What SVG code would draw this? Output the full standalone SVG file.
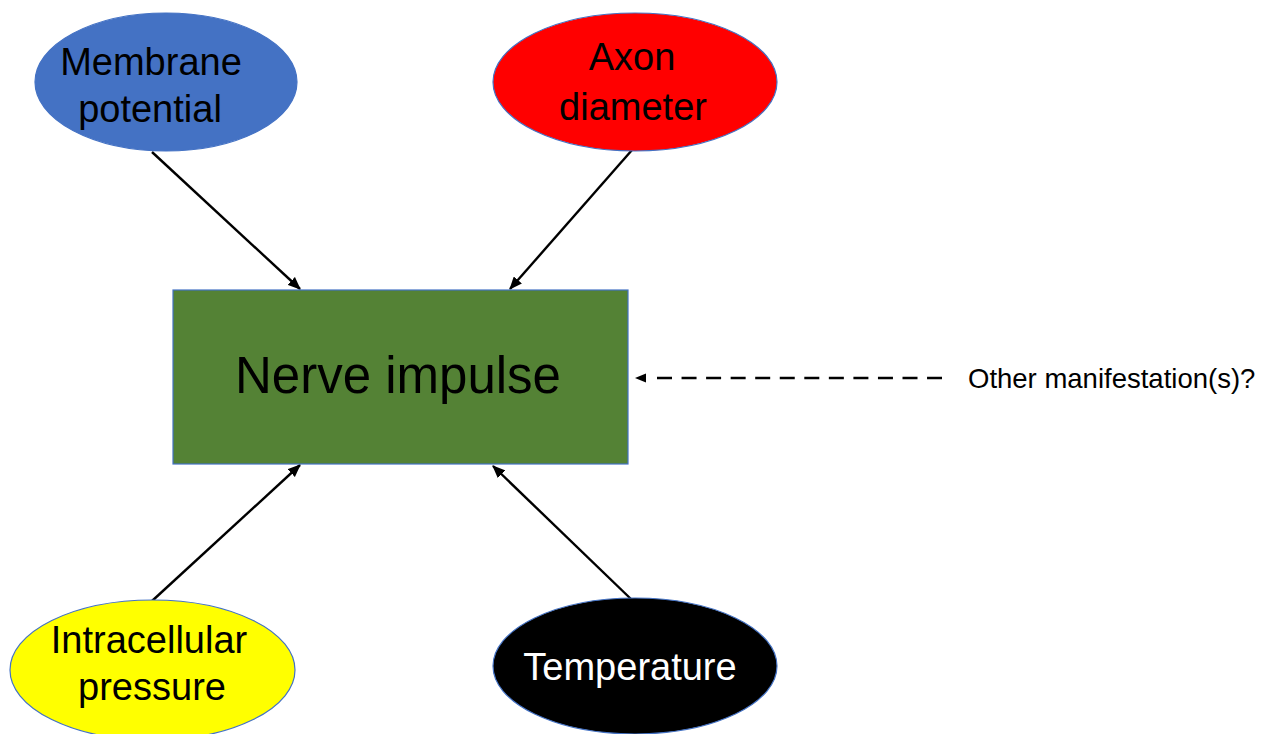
<svg xmlns="http://www.w3.org/2000/svg" width="1276" height="734" viewBox="0 0 1276 734">
<style>
.lbl{font-family:"Liberation Sans",Arial,sans-serif;text-anchor:middle;fill:#000}
.ell{stroke:#4472C4;stroke-width:1.2}
.con{stroke:#000;stroke-width:2.4;fill:none}
</style>
<defs>
<marker id="ah" viewBox="0 0 12 10" refX="11" refY="5" markerWidth="13" markerHeight="11" markerUnits="userSpaceOnUse" orient="auto">
<path d="M0,0 L12,5 L0,10 Z" fill="#000"/>
</marker>
</defs>
<rect width="1276" height="734" fill="#fff"/>
<g id="connectors">
<line class="con" x1="152" y1="152" x2="300" y2="289" marker-end="url(#ah)"/>
<line class="con" x1="632" y1="150" x2="510" y2="289" marker-end="url(#ah)"/>
<line class="con" x1="152" y1="601" x2="300" y2="465" marker-end="url(#ah)"/>
<line class="con" x1="632" y1="600" x2="493" y2="466" marker-end="url(#ah)"/>
<line class="con" x1="657" y1="378" x2="942" y2="378" stroke-width="3" stroke-dasharray="15 9.55"/>
<path d="M635,378 L646,373.5 L646,382.5 Z" fill="#000"/>
</g>
<g id="node-membrane">
<ellipse class="ell" cx="166" cy="82" rx="131" ry="69" fill="#4472C4"/>
<text class="lbl" x="151" y="75" font-size="38">Membrane</text>
<text class="lbl" x="150" y="122" font-size="38">potential</text>
</g>
<g id="node-axon">
<ellipse class="ell" cx="635" cy="82" rx="142" ry="69" fill="#FF0000"/>
<text class="lbl" x="632" y="70" font-size="38">Axon</text>
<text class="lbl" x="633" y="120" font-size="38">diameter</text>
</g>
<g id="node-nerve">
<rect x="173" y="290" width="455" height="174" fill="#548235" stroke="#4472C4" stroke-width="1.2"/>
<text class="lbl" x="398" y="393" font-size="51">Nerve impulse</text>
</g>
<g id="node-intracellular">
<ellipse class="ell" cx="152.5" cy="670" rx="142.5" ry="70" fill="#FFFF00"/>
<text class="lbl" x="149" y="653" font-size="38">Intracellular</text>
<text class="lbl" x="152" y="700" font-size="38">pressure</text>
</g>
<g id="node-temperature">
<ellipse class="ell" cx="635" cy="666" rx="142" ry="68" fill="#000"/>
<text class="lbl" x="630" y="680" font-size="38" style="fill:#fff">Temperature</text>
</g>
<g id="node-other">
<text x="968" y="388" font-size="27.5" font-family="Liberation Sans, Arial, sans-serif" fill="#000">Other manifestation(s)?</text>
</g>
</svg>
